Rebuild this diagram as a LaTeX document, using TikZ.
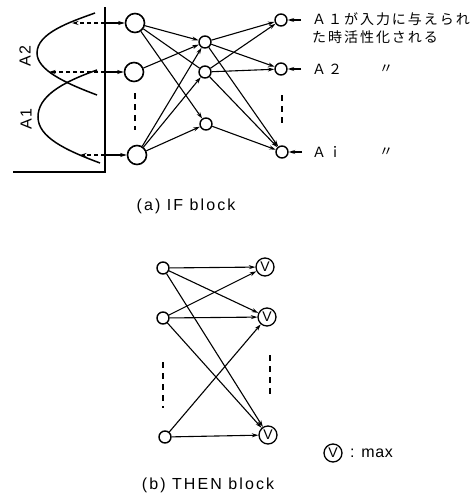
\documentclass[tikz,border=0pt]{standalone}
\usepackage{fontspec}
\setmainfont{Liberation Sans}
\newfontfamily\jpfont[LetterSpace=14]{Noto Sans CJK JP}
\newfontfamily\labfont[LetterSpace=13]{Liberation Sans}
\newfontfamily\maxfont[LetterSpace=4]{Liberation Sans}
\usetikzlibrary{arrows.meta}
\tikzset{
  bigc/.style={circle,draw,line width=1.6pt,minimum size=19pt,inner sep=0pt},
  smallc/.style={circle,draw,line width=1.4pt,minimum size=12pt,inner sep=0pt},
  vnode/.style={circle,draw,line width=1.3pt,minimum size=18pt,inner sep=0pt,font=\fontsize{14}{14}\selectfont},
  edge/.style={line width=1.1pt,-{Stealth[length=6.5pt,width=4pt]}},
  plainedge/.style={line width=1.1pt},
  dedge/.style={line width=1.1pt,dash pattern=on 4pt off 3pt,-{Stealth[length=6.5pt,width=4pt]}},
  vdash/.style={line width=1.4pt,dash pattern=on 6pt off 5pt},
  jptext/.style={anchor=west,inner sep=0pt,font=\jpfont\fontsize{14}{14}\selectfont},
  captext/.style={inner sep=0pt,font=\labfont\fontsize{16}{16}\selectfont},
  curve/.style={line width=1.5pt}
}
\begin{document}
\begin{tikzpicture}[x=1pt,y=-1pt]
\useasboundingbox (0,0) rectangle (472,498);
% ---------- IF block ----------
\coordinate (axtop) at (105,7);
\coordinate (axbot) at (105,172);
\coordinate (axleft) at (13,172);
\draw[line width=1.5pt] (axtop) -- (axbot) -- (axleft);
\draw[curve] (95,13) .. controls (70,22) and (37,33) .. (37,53)
  .. controls (37,70) and (65,83) .. (97,95);
\draw[curve] (97,70) .. controls (60,83) and (38,97) .. (38,117)
  .. controls (38,137) and (65,150) .. (100,163);
\node[rotate=90,captext] (la2) at (25,56) {A2};
\node[rotate=90,captext] (la1) at (26,119) {A1};
\coordinate (ax1) at (105,23);
\coordinate (ax2) at (105,72);
\coordinate (ax3) at (105,155);
\coordinate (c1) at (72,23);
\coordinate (c2) at (49,72);
\coordinate (c3) at (80,155);
\draw[dedge] (ax1) -- (c1);
\draw[dedge] (ax2) -- (c2);
\draw[dedge] (ax3) -- (c3);
\node[bigc] (i1) at (135,23) {};
\node[bigc] (i2) at (134,72) {};
\node[bigc] (i3) at (137,155) {};
\node[smallc] (h1) at (205,42) {};
\node[smallc] (h2) at (205,72) {};
\node[smallc] (h3) at (206,124) {};
\node[smallc] (o1) at (281,20) {};
\node[smallc] (o2) at (281,69) {};
\node[smallc] (o3) at (282,152) {};
\draw[edge] (ax1) -- (i1);
\draw[edge] (ax2) -- (i2);
\draw[edge] (ax3) -- (i3);
\draw[vdash] (135,93) -- (135,130);
\draw[vdash] (282,95) -- (282,126);
\draw[edge] (i1) -- (h1);
\draw[plainedge] (i1) -- (h2);
\draw[edge] (i1) -- (h3);
\draw[edge] (i2) -- (h1);
\draw[edge] (i3) -- (h1);
\draw[edge] (i3) -- (h2);
\draw[edge] (i3) -- (h3);
\draw[edge] (h1) -- (o1);
\draw[edge] (h1) -- (o2);
\draw[edge] (h1) -- (o3);
\draw[edge] (h2) -- (o1);
\draw[edge] (h2) -- (o2);
\draw[edge] (h2) -- (o3);
\draw[edge] (h3) -- (o3);
\coordinate (p1) at (301,20);
\coordinate (p2) at (301,69);
\coordinate (p3) at (302,152);
\draw[edge] (p1) -- (o1);
\draw[edge] (p2) -- (o2);
\draw[edge] (p3) -- (o3);
\node[jptext] (t1) at (312,19.5) {Ａ１が入力に与えられ};
\node[jptext] (t2) at (312,37.5) {た時活性化される};
\node[jptext] (t3) at (312,69) {Ａ２};
\node[jptext] (t4) at (312,152) {Ａｉ};
\node[jptext] (d1) at (379,69) {〃};
\node[jptext] (d2) at (379,152) {〃};
\node[captext] (capa) at (186,206) {(a) IF block};
% ---------- THEN block ----------
\node[smallc] (l1) at (163,268) {};
\node[smallc] (l2) at (163,318) {};
\node[smallc] (l3) at (165,437) {};
\node[vnode] (r1) at (265,267) {V};
\node[vnode] (r2) at (267,317) {V};
\node[vnode] (r3) at (268,435) {V};
\draw[vdash] (163,362) -- (163,408);
\draw[vdash] (270,355) -- (270,398);
\draw[edge] (l1) -- (r1);
\draw[edge] (l1) -- (r2);
\draw[edge] (l1) -- (r3);
\draw[edge] (l2) -- (r1);
\draw[edge] (l2) -- (r2);
\draw[edge] (l2) -- (r3);
\draw[edge] (l3) -- (r2);
\draw[edge] (l3) -- (r3);
\node[vnode] (lv) at (333,453) {V};
\node[inner sep=0pt,anchor=west,font=\maxfont\fontsize{16}{16}\selectfont] (lmax) at (350,453) {: max};
\node[captext] (capb) at (208,485) {(b) THEN block};
\end{tikzpicture}
\end{document}
